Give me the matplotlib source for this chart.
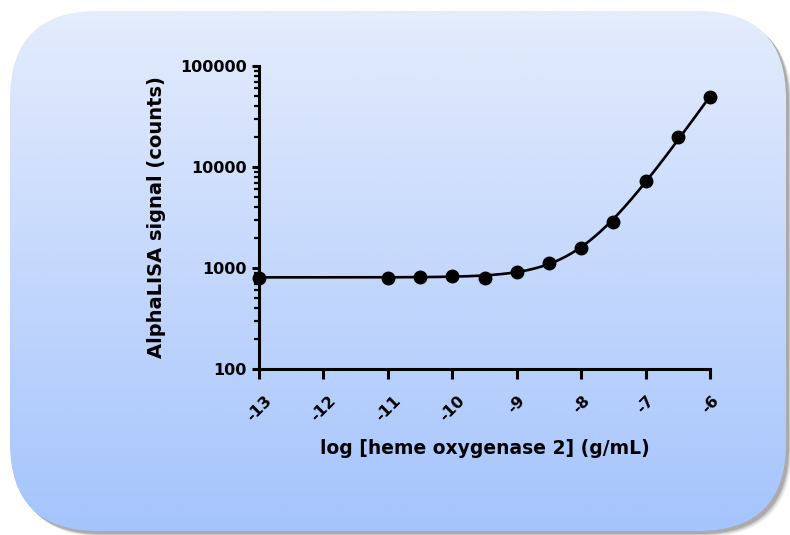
import numpy as np
import matplotlib
matplotlib.use("Agg")
import matplotlib.pyplot as plt
import matplotlib.transforms as mtransforms
from matplotlib.patches import FancyBboxPatch
from matplotlib.ticker import LogLocator, NullFormatter

# ---- data ----
log_conc = [-13, -11, -10.5, -10, -9.5, -9, -8.5, -8, -7.5, -7, -6.5, -6]
signal = [802, 802, 813, 832, 789, 912, 1114, 1563, 2865, 7230, 19800, 49000]
x_ticks = [-13, -12, -11, -10, -9, -8, -7, -6]
y_ticks = [100, 1000, 10000, 100000]
y_tick_labels = ["100", "1000", "10000", "100000"]
x_label = "log [heme oxygenase 2] (g/mL)"
y_label = "AlphaLISA signal (counts)"

W, H = 790, 535
fig = plt.figure(figsize=(W / 100, H / 100), dpi=100)
fig.patch.set_facecolor("white")

# ---- rounded gradient background ----
bg = fig.add_axes([0, 0, 1, 1], zorder=0)
bg.set_xlim(0, W)
bg.set_ylim(H, 0)
bg.axis("off")
bx0, by0, bx1, by1, r = 10, 11, 786, 531, 88
for k, a in [(6, 0.08), (5, 0.12), (4, 0.18), (3, 0.28)]:
    sh = FancyBboxPatch((bx0 + r + k, by0 + r + k), (bx1 - bx0) - 2 * r, (by1 - by0) - 2 * r,
                        boxstyle=f"round,pad={r}", fc="#606060", ec="none", alpha=a)
    bg.add_patch(sh)
box = FancyBboxPatch((bx0 + r, by0 + r), (bx1 - bx0) - 2 * r, (by1 - by0) - 2 * r,
                     boxstyle=f"round,pad={r}", fc="none", ec="none")
bg.add_patch(box)
top = np.array([228, 236, 252]) / 255
bot = np.array([165, 196, 252]) / 255
t = np.linspace(0, 1, 256)[:, None]
grad = (top[None, :] * (1 - t) + bot[None, :] * t)[:, None, :]
im = bg.imshow(grad, extent=[bx0, bx1, by1, by0], aspect="auto", zorder=1)
im.set_clip_path(box)

# ---- main axes ----
ax = fig.add_axes([259 / W, 1 - 369 / H, (710 - 259) / W, (369 - 66) / H], zorder=2)
ax.patch.set_alpha(0)
ax.set_yscale("log")
ax.set_xlim(-13, -6)
ax.set_ylim(100, 100000)

# fitted curve: plateau + power term
xs = np.array(log_conc)
ys = np.array(signal, dtype=float)
bottom = ys[:5].mean()
sl, ic = np.polyfit(xs[5:], np.log10(ys[5:] - bottom), 1)
xf = np.linspace(-13, -6, 400)
yf = bottom + 10 ** (ic + sl * xf)
ax.plot(xf, yf, color="black", lw=1.9, clip_on=False, zorder=3)
ax.plot(log_conc, signal, "o", color="black", ms=9, clip_on=False, zorder=4)

for s in ["top", "right"]:
    ax.spines[s].set_visible(False)
for s in ["left", "bottom"]:
    ax.spines[s].set_linewidth(2.2)

ax.set_xticks(x_ticks)
ax.set_xticklabels([str(v) for v in x_ticks], rotation=45, fontsize=11.5,
                   fontweight="bold", family="DejaVu Sans")
shift = mtransforms.ScaledTranslation(-4 / 72, -1 / 72, fig.dpi_scale_trans)
for lab in ax.get_xticklabels():
    lab.set_transform(lab.get_transform() + shift)
ax.set_yticks(y_ticks)
ax.set_yticklabels(y_tick_labels, fontsize=11.5, fontweight="bold", family="DejaVu Sans")
ax.yaxis.set_minor_locator(LogLocator(base=10, subs=np.arange(2, 10), numticks=20))
ax.yaxis.set_minor_formatter(NullFormatter())
ax.tick_params(axis="x", which="major", length=7, width=2.2, pad=10)
ax.tick_params(axis="y", which="major", length=5, width=2.2, pad=4)
ax.tick_params(axis="y", which="minor", length=3.5, width=1.6)

ax.set_xlabel(x_label, fontsize=13.5, fontweight="bold", family="DejaVu Sans", labelpad=11)
ax.set_ylabel(y_label, fontsize=14, fontweight="bold", family="DejaVu Sans", labelpad=10)

fig.savefig("out.png", dpi=100)
